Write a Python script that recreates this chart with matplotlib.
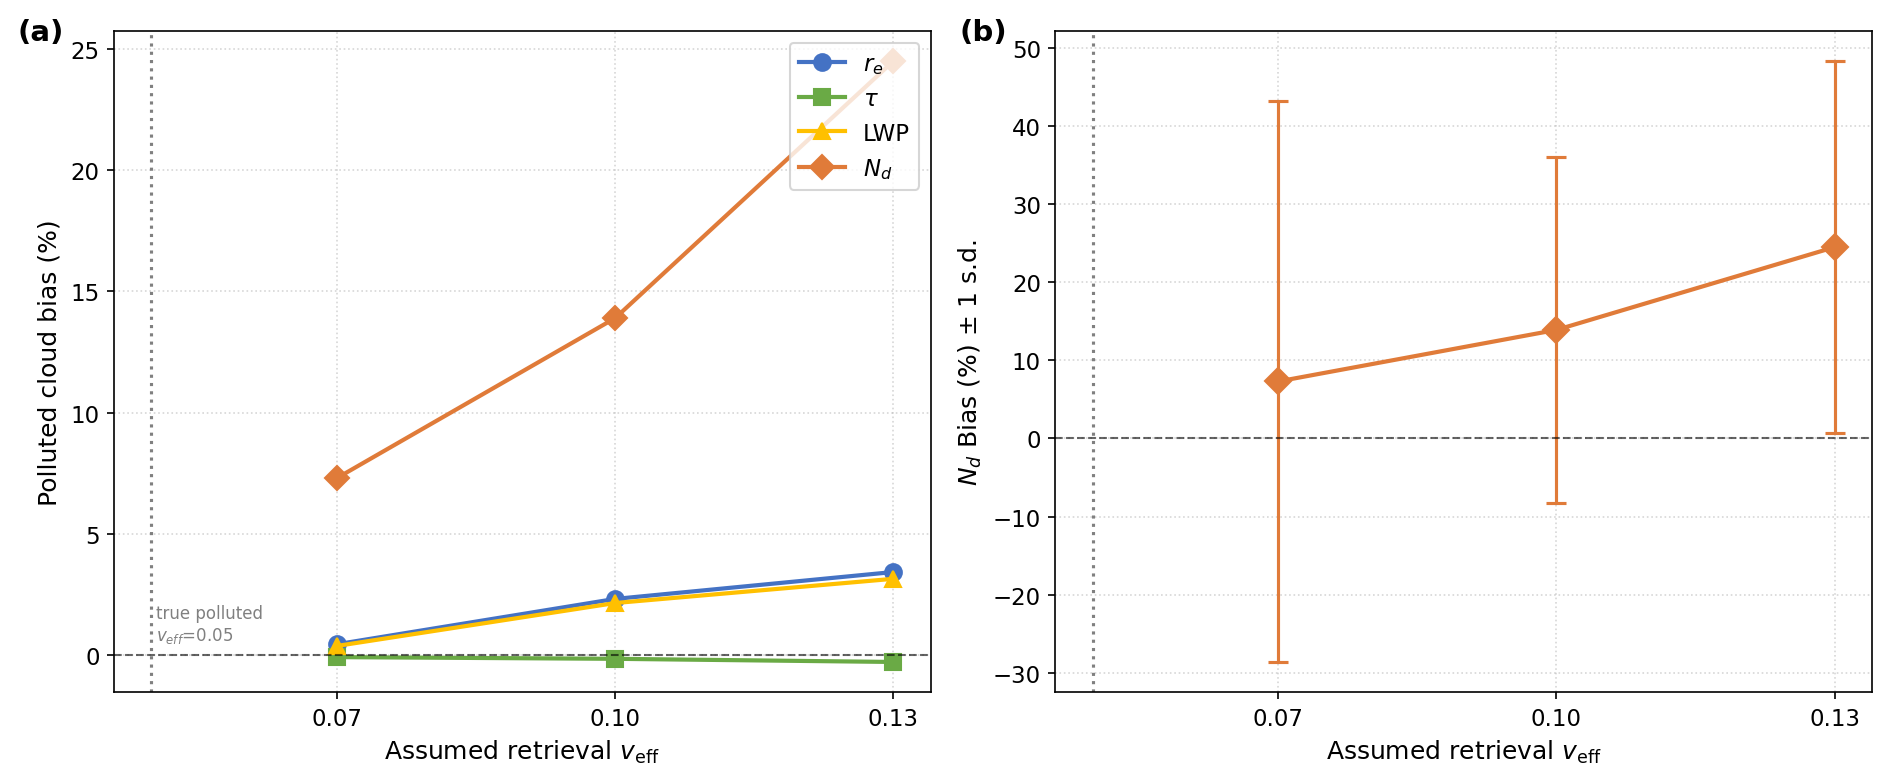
import matplotlib
matplotlib.use('Agg')
import matplotlib.pyplot as plt

# assumed retrieval v_eff values
veff = [0.07, 0.10, 0.13]
veff_true = 0.05
tick_labels = ['0.07', '0.10', '0.13']

# polluted cloud bias (%)
re_bias = [0.45, 2.32, 3.43]
tau_bias = [-0.08, -0.15, -0.28]
lwp_bias = [0.38, 2.15, 3.15]
nd_bias = [7.3, 13.9, 24.5]
nd_sd = [35.9, 22.1, 23.8]

c_re = '#4472C4'
c_tau = '#6AAA45'
c_lwp = '#FFC000'
c_nd = '#E07B39'

fig, (ax1, ax2) = plt.subplots(1, 2, figsize=(1892 / 150, 782 / 150), dpi=150)
fig.subplots_adjust(left=0.0603, right=0.9894, top=0.959, bottom=0.1138, wspace=0.153)

# (a)
ax1.plot(veff, re_bias, '-o', color=c_re, lw=2, ms=8, label=r'$r_e$')
ax1.plot(veff, tau_bias, '-s', color=c_tau, lw=2, ms=8, label=r'$\tau$')
ax1.plot(veff, lwp_bias, '-^', color=c_lwp, lw=2, ms=8, label='LWP')
ax1.plot(veff, nd_bias, '-D', color=c_nd, lw=2, ms=8, label=r'$N_d$')
ax1.axhline(0, color='k', ls='--', lw=1, alpha=0.6)
ax1.axvline(veff_true, color='gray', ls=':', lw=1.5)
ax1.text(0.0505, 0.4, 'true polluted\n$v_{eff}$=0.05', fontsize=8, color='gray',
         va='bottom', ha='left')
ax1.set_xticks(veff)
ax1.set_xticklabels(tick_labels)
ax1.tick_params(labelsize=11)
ax1.set_xlabel(r'Assumed retrieval $v_{\mathrm{eff}}$', fontsize=12)
ax1.set_ylabel('Polluted cloud bias (%)', fontsize=12)
ax1.grid(True, ls=':', alpha=0.5)
ax1.legend(loc='upper right', fontsize=11)
ax1.text(-0.118, 1.02, '(a)', transform=ax1.transAxes, fontsize=14,
         fontweight='bold', va='top', ha='left')

# (b)
ax2.errorbar(veff, nd_bias, yerr=nd_sd, fmt='-D', color=c_nd, lw=2, ms=9,
             capsize=5, elinewidth=1.5, capthick=1.5)
ax2.axhline(0, color='k', ls='--', lw=1, alpha=0.6)
ax2.axvline(veff_true, color='gray', ls=':', lw=1.5)
ax2.set_xticks(veff)
ax2.set_xticklabels(tick_labels)
ax2.tick_params(labelsize=11)
ax2.set_xlabel(r'Assumed retrieval $v_{\mathrm{eff}}$', fontsize=12)
ax2.set_ylabel(r'$N_d$ Bias (%) $\pm$ 1 s.d.', fontsize=12)
ax2.grid(True, ls=':', alpha=0.5)
ax2.text(-0.118, 1.02, '(b)', transform=ax2.transAxes, fontsize=14,
         fontweight='bold', va='top', ha='left')

fig.savefig('out.png', dpi=150)
